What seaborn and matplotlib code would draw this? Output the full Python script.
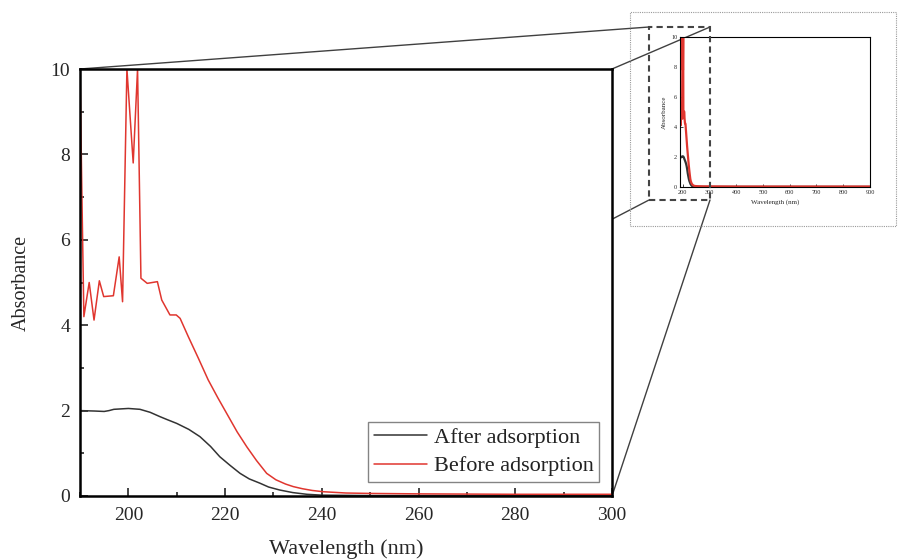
import numpy as np
import pandas as pd
import matplotlib
matplotlib.use("Agg")
import matplotlib.pyplot as plt
from matplotlib.lines import Line2D
from matplotlib.patches import Rectangle
from matplotlib.ticker import MultipleLocator
import seaborn as sns

# ---- data ----
wl_before = [190, 190.4, 190.8, 191.9, 192.9, 194.0, 194.9, 196.9, 198.1, 198.8,
             199.7, 201.0, 201.9, 202.6, 203.9, 206.0, 206.9, 208.6, 209.9, 210.7,
             212.4, 214.5, 216.5, 218.5, 220.5, 222.5, 224.5, 226.5, 228.6, 230.5,
             232.5, 234.1, 236, 238, 240.3, 245, 250, 260, 280, 300,
             400, 500, 600, 700, 800, 900]
abs_before = [10, 7.0, 4.2, 5.0, 4.12, 5.04, 4.67, 4.69, 5.6, 4.55,
              10, 7.8, 10, 5.1, 4.98, 5.02, 4.59, 4.24, 4.24, 4.16,
              3.73, 3.22, 2.72, 2.3, 1.9, 1.5, 1.15, 0.83, 0.53, 0.38,
              0.28, 0.22, 0.17, 0.13, 0.10, 0.07, 0.06, 0.05, 0.04, 0.04,
              0.03, 0.03, 0.03, 0.03, 0.03, 0.03]

wl_after = [190, 193, 195, 196, 197, 200, 202.4, 204.5, 206.5, 208, 210, 212.5,
            214.8, 217, 218.9, 221, 223.1, 225, 227.2, 229, 231.3, 234, 236.9,
            240, 250, 270, 300, 400, 500, 600, 700, 800, 900]
abs_after = [2.0, 1.99, 1.98, 2.0, 2.03, 2.05, 2.03, 1.96, 1.86, 1.79, 1.70, 1.56,
             1.39, 1.16, 0.92, 0.72, 0.53, 0.40, 0.30, 0.21, 0.14, 0.08, 0.04,
             0.02, 0.01, 0.01, 0.01, 0.01, 0.01, 0.01, 0.01, 0.01, 0.01]

series_names = ["After adsorption", "Before adsorption"]
series_colors = ["#333333", "#e0362f"]

main_xticks = [200, 220, 240, 260, 280, 300]
main_yticks = [0, 2, 4, 6, 8, 10]
inset_xticks = [200, 300, 400, 500, 600, 700, 800, 900]

df = pd.concat([
    pd.DataFrame({"Wavelength": wl_after, "Absorbance": abs_after, "Sample": series_names[0]}),
    pd.DataFrame({"Wavelength": wl_before, "Absorbance": abs_before, "Sample": series_names[1]}),
])

sns.set_style("ticks")
plt.rcParams["font.family"] = ["Liberation Serif", "DejaVu Serif"]
plt.rcParams["mathtext.fontset"] = "stix"

W, H = 898, 560
fig = plt.figure(figsize=(W / 100, H / 100), dpi=100)
fig.patch.set_facecolor("white")


def px_rect(x0, y0, x1, y1):
    return [x0 / W, 1 - y1 / H, (x1 - x0) / W, (y1 - y0) / H]


def fx(x):
    return x / W


def fy(y):
    return 1 - y / H


# ---- connecting lines & frames (behind the axes) ----
main_box = (80, 69, 612, 496)
dash_box = (649, 27, 710, 200)
conn = [((80, 69), (649, 27)), ((612, 69), (710, 27)),
        ((80, 496), (649, 200)), ((612, 496), (710, 200))]
for (a, b) in conn:
    fig.add_artist(Line2D([fx(a[0]), fx(b[0])], [fy(a[1]), fy(b[1])],
                          transform=fig.transFigure, color="#404040", lw=1.0, zorder=-5))

fig.add_artist(Rectangle((fx(630), fy(226)), fx(896) - fx(630), fy(12) - fy(226),
                         transform=fig.transFigure, fill=False, ec="#9a9a9a",
                         lw=0.8, ls=(0, (1, 1)), zorder=-4))

# ---- main axes ----
ax = fig.add_axes(px_rect(*main_box))
ax.set_zorder(1)
sns.lineplot(data=df, x="Wavelength", y="Absorbance", hue="Sample",
             palette=series_colors, hue_order=series_names, estimator=None,
             sort=False, ax=ax, linewidth=1.1)
ax.set_xlim(190, 300)
ax.set_ylim(0, 10)
ax.set_xticks(main_xticks)
ax.set_yticks(main_yticks)
ax.xaxis.set_minor_locator(MultipleLocator(10))
ax.yaxis.set_minor_locator(MultipleLocator(1))
ax.tick_params(which="both", direction="in", top=False, right=False, width=1.2)
ax.tick_params(which="major", length=6, labelsize=14, pad=8)
ax.tick_params(axis="y", which="major", pad=7)
ax.tick_params(which="minor", length=3)
for s in ax.spines.values():
    s.set_linewidth(1.8)
    s.set_color("black")
ax.set_xlabel("Wavelength (nm)", fontsize=16, labelpad=11)
ax.set_ylabel("Absorbance", fontsize=14.5, labelpad=14)
leg = ax.legend(loc="lower right", fontsize=16, frameon=True, fancybox=False,
                edgecolor="#666666", handlelength=2.4, borderpad=0.25,
                labelspacing=0.35, handletextpad=0.3, borderaxespad=0.0,
                bbox_to_anchor=(0.976, 0.033))
leg.get_frame().set_linewidth(1.0)
for t in leg.get_texts():
    t.set_color("#222222")

# ---- inset axes ----
ins = fig.add_axes(px_rect(680, 37, 870, 187))
ins.set_zorder(2)
sns.lineplot(data=df, x="Wavelength", y="Absorbance", hue="Sample",
             palette=series_colors, hue_order=series_names, estimator=None,
             sort=False, ax=ins, linewidth=1.6, legend=False)
ins.set_xlim(190, 900)
ins.set_ylim(0, 10)
ins.set_xticks(inset_xticks)
ins.set_yticks(main_yticks)
ins.tick_params(which="both", direction="in", top=False, right=False, width=0.6,
                length=2, labelsize=4.5, pad=2)
for s in ins.spines.values():
    s.set_linewidth(0.8)
    s.set_color("black")
ins.set_xlabel("Wavelength (nm)", fontsize=5, labelpad=3)
ins.set_ylabel("Absorbance", fontsize=5, labelpad=3)

fig.add_artist(Rectangle((fx(dash_box[0]), fy(dash_box[3])),
                         fx(dash_box[2]) - fx(dash_box[0]), fy(dash_box[1]) - fy(dash_box[3]),
                         transform=fig.transFigure, fill=False, ec="#444444",
                         lw=1.5, ls=(0, (3, 2)), zorder=10))

fig.savefig("out.png", dpi=100, facecolor="white")
